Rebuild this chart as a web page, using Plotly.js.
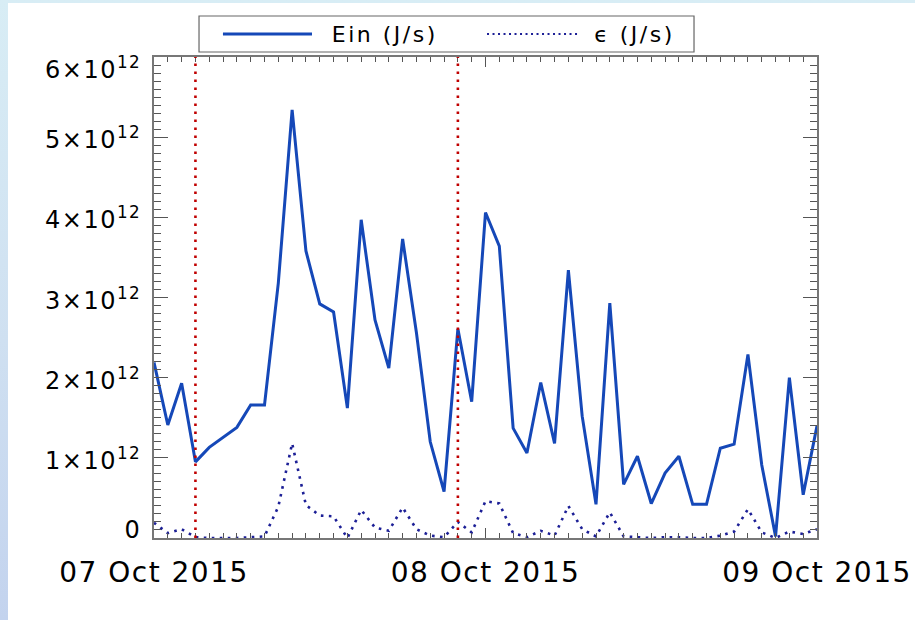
<!DOCTYPE html>
<html>
<head>
<meta charset="utf-8">
<script src="https://cdn.plot.ly/plotly-3.0.1.min.js"></script>
<style>
  html, body { margin: 0; padding: 0; }
  #frame {
    position: relative; width: 915px; height: 620px; overflow: hidden;
    background: linear-gradient(to bottom, #d8edf5 0%, #cfe0f1 55%, #c3d3ee 100%);
  }
  #sheet { position: absolute; left: 8px; top: 3px; right: 0; bottom: 0; background: #ffffff; }
  #chart { position: absolute; left: 0; top: 0; width: 915px; height: 620px; }
  #chart .xtick text { letter-spacing: 1.5px; }
  #chart .annotation-text { letter-spacing: 1.5px; }
  #chart .annotation[data-index="0"] .annotation-text,
  #chart .annotation[data-index="1"] .annotation-text { letter-spacing: 2.5px; }
</style>
</head>
<body>
<div id="frame">
  <div id="sheet"></div>
  <div id="chart"></div>
</div>
<script>
// Hourly samples, 07 Oct 2015 00:00 through 09 Oct 2015 00:00 (units of 1e12 J/s)
const startTime = '2015-10-07T00:00:00';
const einValues = [
  2.19, 1.41, 1.93, 0.95, 1.13, 1.25, 1.38, 1.66, 1.66, 3.18,
  5.34, 3.58, 2.92, 2.82, 1.62, 3.97, 2.72, 2.12, 3.73, 2.56,
  1.20, 0.58, 2.61, 1.70, 4.06, 3.64, 1.37, 1.06, 1.94, 1.18,
  3.34, 1.52, 0.42, 2.93, 0.67, 1.02, 0.43, 0.81, 1.02, 0.42,
  0.42, 1.12, 1.17, 2.29, 0.91, 0.02, 2.00, 0.54, 1.40
];
const epsValues = [
  0.19, 0.06, 0.11, 0.01, 0.00, 0.00, 0.00, 0.01, 0.02, 0.39,
  1.18, 0.41, 0.28, 0.27, 0.00, 0.35, 0.13, 0.09, 0.38, 0.11,
  0.03, 0.01, 0.20, 0.07, 0.46, 0.43, 0.06, 0.01, 0.09, 0.03,
  0.40, 0.11, 0.02, 0.32, 0.02, 0.01, 0.00, 0.01, 0.01, 0.00,
  0.00, 0.03, 0.08, 0.36, 0.07, 0.00, 0.08, 0.05, 0.11
];
const scale = 1e12;

// Event markers (vertical dotted lines)
const eventTimes = ['2015-10-07 03:00:00', '2015-10-07 22:00:00'];

// Axis ticks
const yTickValues = [0, 1e12, 2e12, 3e12, 4e12, 5e12, 6e12];
const yTickLabels = ['0', '1\u00d710<sup>12</sup>', '2\u00d710<sup>12</sup>', '3\u00d710<sup>12</sup>',
                     '4\u00d710<sup>12</sup>', '5\u00d710<sup>12</sup>', '6\u00d710<sup>12</sup>'];
const xRange = ['2015-10-07 00:00:00', '2015-10-09 00:00:00'];

// Legend entries
const legendNames = ['Ein (J/s)', '\u03f5 (J/s)'];

function hourStamp(i) {
  const t = new Date(Date.parse(startTime + 'Z') + i * 3600000);
  return t.toISOString().replace('T', ' ').slice(0, 19);
}
const times = einValues.map((_, i) => hourStamp(i));

const einColor = '#1548b8';
const epsColor = '#1c1f96';
const eventColor = '#c00000';
const frameColor = '#777777';
const tickColor = '#555555';
const labelFont = 'DejaVu Sans';

const traces = [
  {
    x: times, y: einValues.map(v => v * scale), type: 'scatter', mode: 'lines',
    name: legendNames[0], line: { color: einColor, width: 3 }, showlegend: false
  },
  {
    x: times, y: epsValues.map(v => v * scale), type: 'scatter', mode: 'lines',
    name: legendNames[1], line: { color: epsColor, width: 2.6, dash: '2.6px,5.4px' }, showlegend: false
  },
  // carrier for the overlaid minor-tick axes
  { x: [], y: [], type: 'scatter', mode: 'lines', xaxis: 'x2', yaxis: 'y2', showlegend: false, hoverinfo: 'skip' }
];

const shapes = eventTimes.map(t => ({
  type: 'line', xref: 'x', yref: 'paper', x0: t, x1: t, y0: 0, y1: 1,
  line: { color: eventColor, width: 2.6, dash: '2.6px,5.4px' }, layer: 'above'
}));

// Hand-built legend box above the plot
shapes.push(
  { type: 'rect', xref: 'paper', yref: 'paper', x0: 0.0679, x1: 0.8145, y0: 1.0104, y1: 1.0852,
    line: { color: '#666666', width: 1.2 }, fillcolor: '#ffffff' },
  { type: 'line', xref: 'paper', yref: 'paper', x0: 0.104, x1: 0.2383, y0: 1.0478, y1: 1.0478,
    line: { color: einColor, width: 3 } },
  { type: 'line', xref: 'paper', yref: 'paper', x0: 0.5023, x1: 0.6395, y0: 1.0478, y1: 1.0478,
    line: { color: epsColor, width: 2, dash: '2px,3.5px' } }
);

const annotations = [
  { text: legendNames[0], xref: 'paper', yref: 'paper', x: 0.3484, y: 1.0478,
    xanchor: 'center', yanchor: 'middle', showarrow: false,
    font: { family: labelFont, size: 22, color: '#000000' } },
  { text: legendNames[1], xref: 'paper', yref: 'paper', x: 0.7247, y: 1.0478,
    xanchor: 'center', yanchor: 'middle', showarrow: false,
    font: { family: labelFont, size: 22, color: '#000000' } }
];

// Y tick labels, placed on the y scale; the end labels sit inside the axis span
yTickValues.forEach((v, i) => {
  let shift = -1;
  if (i === 0) shift = 8;
  if (i === yTickValues.length - 1) shift = -11;
  annotations.push({
    text: yTickLabels[i], xref: 'paper', yref: 'y', x: 0, y: v,
    xanchor: 'right', yanchor: 'middle', align: 'right', xshift: -11, yshift: shift,
    showarrow: false, font: { family: labelFont, size: 24, color: '#000000' }
  });
});

const axisCommon = {
  showgrid: false, zeroline: false, showline: true, linecolor: frameColor, linewidth: 1.6,
  mirror: 'ticks', ticks: 'inside', tickcolor: tickColor, tickwidth: 1
};

const layout = {
  width: 915, height: 620,
  margin: { l: 154, r: 98, t: 57, b: 82 },
  paper_bgcolor: 'rgba(0,0,0,0)', plot_bgcolor: '#ffffff',
  font: { family: labelFont, color: '#000000' },
  showlegend: false,
  xaxis: Object.assign({}, axisCommon, {
    type: 'date', range: xRange, tickmode: 'linear', tick0: xRange[0], dtick: 86400000,
    tickformat: '%d %b %Y', ticklen: 10, ticklabelstandoff: 9,
    tickfont: { family: labelFont, size: 28, color: '#000000' }
  }),
  yaxis: Object.assign({}, axisCommon, {
    range: [0, 6e12], tickmode: 'array', tickvals: yTickValues, ticklen: 14,
    showticklabels: false
  }),
  // hourly minor ticks along x
  xaxis2: Object.assign({}, axisCommon, {
    type: 'date', range: xRange, overlaying: 'x', anchor: 'y2', side: 'bottom',
    tickmode: 'linear', tick0: xRange[0], dtick: 3600000, ticklen: 5, showticklabels: false
  }),
  // minor ticks every 1e11 along y
  yaxis2: Object.assign({}, axisCommon, {
    range: [0, 6e12], overlaying: 'y', anchor: 'x2', side: 'left',
    tickmode: 'linear', tick0: 0, dtick: 1e11, ticklen: 7, showticklabels: false
  }),
  shapes: shapes,
  annotations: annotations
};

Plotly.newPlot('chart', traces, layout, { staticPlot: true, displayModeBar: false });
</script>
</body>
</html>
